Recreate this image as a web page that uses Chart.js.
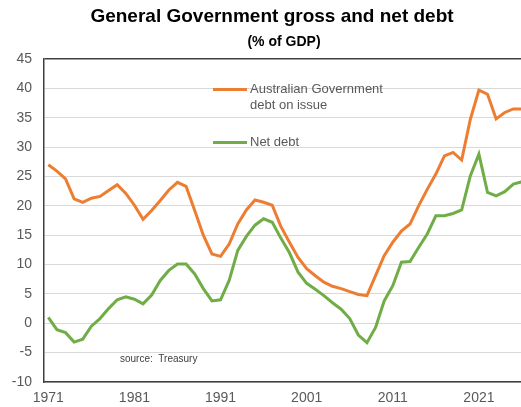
<!DOCTYPE html>
<html>
<head>
<meta charset="utf-8">
<title>General Government gross and net debt</title>
<script src="https://cdn.jsdelivr.net/npm/chart.js@4.4.1/dist/chart.umd.min.js"></script>
<style>
  html, body { margin: 0; padding: 0; background: #fff; overflow: hidden; }
  #wrap { width: 530px; height: 407px; position: relative; }
</style>
</head>
<body>
<div id="wrap"><canvas id="debt-chart"></canvas></div>
<script>
// Financial years, % of GDP
const years = [
  '1971', '1972', '1973', '1974', '1975', '1976', '1977', '1978', '1979', '1980',
  '1981', '1982', '1983', '1984', '1985', '1986', '1987', '1988', '1989', '1990',
  '1991', '1992', '1993', '1994', '1995', '1996', '1997', '1998', '1999', '2000',
  '2001', '2002', '2003', '2004', '2005', '2006', '2007', '2008', '2009', '2010',
  '2011', '2012', '2013', '2014', '2015', '2016', '2017', '2018', '2019', '2020',
  '2021', '2022', '2023', '2024', '2025', '2026'
];

const grossDebt = [
  27.0, 25.9, 24.6, 21.2, 20.6, 21.3, 21.6, 22.6, 23.6, 22.1,
  20.1, 17.7, 19.2, 20.9, 22.7, 24.0, 23.3, 19.2, 15.0, 11.8,
  11.4, 13.5, 16.9, 19.3, 21.0, 20.6, 20.1, 16.5, 13.8, 11.2,
  9.3, 8.1, 7.0, 6.3, 5.9, 5.4, 4.9, 4.7, 8.1, 11.5,
  13.8, 15.7, 16.9, 20.0, 22.8, 25.4, 28.5, 29.1, 27.8, 34.7,
  39.7, 39.0, 34.8, 35.9, 36.5, 36.5
];

const netDebt = [
  1.0, -1.1, -1.6, -3.2, -2.7, -0.5, 0.8, 2.5, 4.0, 4.5,
  4.1, 3.3, 4.8, 7.3, 9.0, 10.1, 10.1, 8.4, 5.9, 3.8,
  4.0, 7.3, 12.4, 14.8, 16.7, 17.8, 17.2, 14.5, 12.0, 8.7,
  6.8, 5.8, 4.7, 3.5, 2.4, 0.8, -2.0, -3.3, -0.7, 3.8,
  6.4, 10.4, 10.5, 12.9, 15.2, 18.3, 18.3, 18.7, 19.3, 25.1,
  28.8, 22.3, 21.7, 22.4, 23.7, 24.1
];

const xTickLabels = ['1971', '1981', '1991', '2001', '2011', '2021'];
const seriesNames = [['Australian Government', 'debt on issue'], ['Net debt']];

const ORANGE = '#ED7D31';
const GREEN = '#70AD47';
const AXIS = '#404040';
const TEXT = '#595959';
const FONT = "'Liberation Sans', Arial, sans-serif";

// Title, in-plot legend and source note
const annotations = {
  id: 'annotations',
  afterDraw(chart) {
    const ctx = chart.ctx;
    ctx.save();
    ctx.fillStyle = '#000';
    ctx.textAlign = 'center';
    ctx.textBaseline = 'middle';
    ctx.font = 'bold 19px ' + FONT;
    ctx.fillText('General Government gross and net debt', 272, 17);
    ctx.font = 'bold 14px ' + FONT;
    ctx.fillText('(% of GDP)', 284, 42);

    // legend entries
    const entries = [
      { color: ORANGE, y: 89.5, lines: seriesNames[0] },
      { color: GREEN, y: 142.5, lines: seriesNames[1] }
    ];
    ctx.textAlign = 'left';
    ctx.font = '13px ' + FONT;
    entries.forEach(e => {
      ctx.strokeStyle = e.color;
      ctx.lineWidth = 3;
      ctx.beginPath();
      ctx.moveTo(213, e.y);
      ctx.lineTo(247, e.y);
      ctx.stroke();
      ctx.fillStyle = TEXT;
      e.lines.forEach((line, i) => ctx.fillText(line, 250, e.y + i * 16));
    });

    ctx.fillStyle = AXIS;
    ctx.font = '10px ' + FONT;
    ctx.fillText('source:  Treasury', 120, 359);
    ctx.restore();
  }
};

const ctx = document.getElementById('debt-chart').getContext('2d');
const chart = new Chart(ctx, {
  type: 'line',
  data: {
    labels: years,
    datasets: [
      {
        label: 'Australian Government debt on issue',
        data: grossDebt,
        borderColor: ORANGE,
        borderWidth: 3,
        pointRadius: 0,
        tension: 0,
        fill: false
      },
      {
        label: 'Net debt',
        data: netDebt,
        borderColor: GREEN,
        borderWidth: 3,
        pointRadius: 0,
        tension: 0,
        fill: false
      }
    ]
  },
  options: {
    responsive: true,
    maintainAspectRatio: false,
    animation: false,
    layout: { padding: { top: 59, right: 3, left: 0, bottom: 0 } },
    plugins: {
      legend: { display: false },
      title: { display: false },
      tooltip: { enabled: false }
    },
    scales: {
      x: {
        type: 'category',
        offset: true,
        grid: { display: false, drawTicks: false },
        border: { display: true, color: AXIS, width: 1.5 },
        ticks: {
          autoSkip: false,
          maxRotation: 0,
          padding: 8,
          color: TEXT,
          font: { family: FONT, size: 14 },
          callback: function (value, index) {
            const label = this.getLabelForValue(value);
            return xTickLabels.includes(label) ? label : '';
          }
        },
        afterFit: function (scale) { scale.height = 25; }
      },
      y: {
        min: -10,
        max: 45,
        grid: {
          drawTicks: false,
          lineWidth: ctx => (ctx.tick && ctx.tick.value === 45 ? 1.5 : 1),
          color: ctx => (ctx.tick && ctx.tick.value === 45 ? AXIS : '#d9d9d9')
        },
        border: { display: true, color: AXIS, width: 1.5 },
        ticks: {
          stepSize: 5,
          padding: 12,
          color: TEXT,
          font: { family: FONT, size: 14 }
        },
        afterFit: function (scale) { scale.width = 44; }
      }
    }
  },
  plugins: [annotations]
});
</script>
</body>
</html>
